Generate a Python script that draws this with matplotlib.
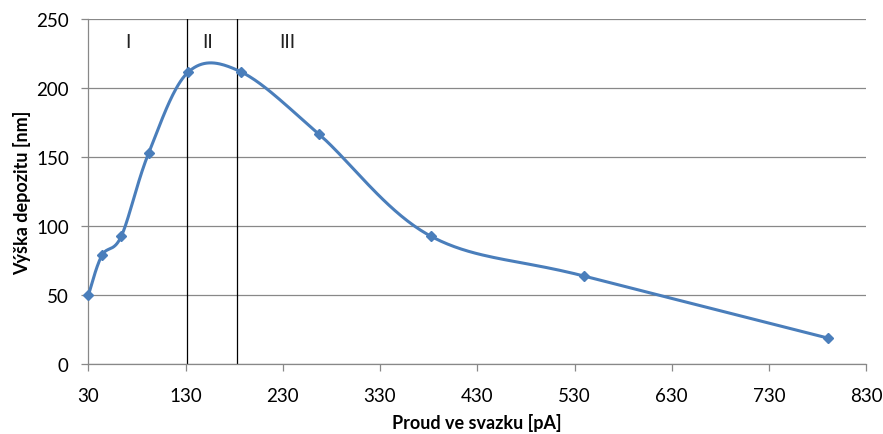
import numpy as np
import matplotlib
matplotlib.use("Agg")
import matplotlib.pyplot as plt

# Data
current_pA = [30, 44, 64, 92, 133, 187, 267, 382, 540, 791]
height_nm = [50, 79, 93, 153, 212, 212, 167, 93, 64, 19]
region_bounds = [131, 183]
region_labels = ["I", "II", "III"]
region_label_x = [71, 153, 235]
x_ticks = [30, 130, 230, 330, 430, 530, 630, 730, 830]
y_ticks = [0, 50, 100, 150, 200, 250]

plt.rcParams['font.family'] = ['Lato', 'DejaVu Sans']

def excel_smooth(x, y, n=40):
    x = np.asarray(x, float); y = np.asarray(y, float)
    P = np.column_stack([x, y])
    out = []
    for i in range(len(P) - 1):
        p0 = P[i - 1] if i > 0 else P[i]
        p1 = P[i]; p2 = P[i + 1]
        p3 = P[i + 2] if i + 2 < len(P) else P[i + 1]
        c1 = p1 + (p2 - p0) / 6.0
        c2 = p2 - (p3 - p1) / 6.0
        t = np.linspace(0, 1, n)[:, None]
        seg = ((1 - t) ** 3) * p1 + 3 * ((1 - t) ** 2) * t * c1 + 3 * (1 - t) * t ** 2 * c2 + t ** 3 * p2
        out.append(seg if i == 0 else seg[1:])
    s = np.vstack(out)
    return s[:, 0], s[:, 1]

fig = plt.figure(figsize=(8.83, 4.35), dpi=100)
ax = fig.add_axes([0.1, 0.16, 0.881, 0.793])

blue = '#4A7EBB'
sx, sy = excel_smooth(current_pA, height_nm)
ax.plot(sx, sy, color=blue, lw=2.2, zorder=3, solid_capstyle='round', clip_on=False)
ax.plot(current_pA, height_nm, linestyle='none', marker='D', markersize=5.5,
        color=blue, zorder=4, clip_on=False)

for xb in region_bounds:
    ax.axvline(xb, color='black', lw=0.9, zorder=2)
for lab, lx in zip(region_labels, region_label_x):
    ax.text(lx, 234, lab, ha='center', va='center', fontsize=13.5, color='#222222')

ax.set_xlim(30, 830)
ax.set_ylim(0, 250)
ax.set_xticks(x_ticks)
ax.set_yticks(y_ticks)
ax.yaxis.grid(True, color='#888888', lw=0.9)
ax.set_axisbelow(True)
for s in ['top', 'right']:
    ax.spines[s].set_visible(False)
for s in ['left', 'bottom']:
    ax.spines[s].set_color('#888888')
    ax.spines[s].set_linewidth(0.9)
ax.tick_params(axis='both', colors='#888888', length=5, width=0.9, direction='out',
               labelcolor='black', labelsize=13.5)
ax.tick_params(axis='x', pad=11)
ax.tick_params(axis='y', pad=9)

ax.set_xlabel('Proud ve svazku [pA]', fontsize=13, fontweight='bold', va='center')
ax.set_ylabel('Výška depozitu [nm]', fontsize=13, fontweight='bold', va='center')
ax.xaxis.set_label_coords(0.5, -0.167)
ax.yaxis.set_label_coords(-0.085, 0.5)

fig.savefig('out.png', dpi=100)
